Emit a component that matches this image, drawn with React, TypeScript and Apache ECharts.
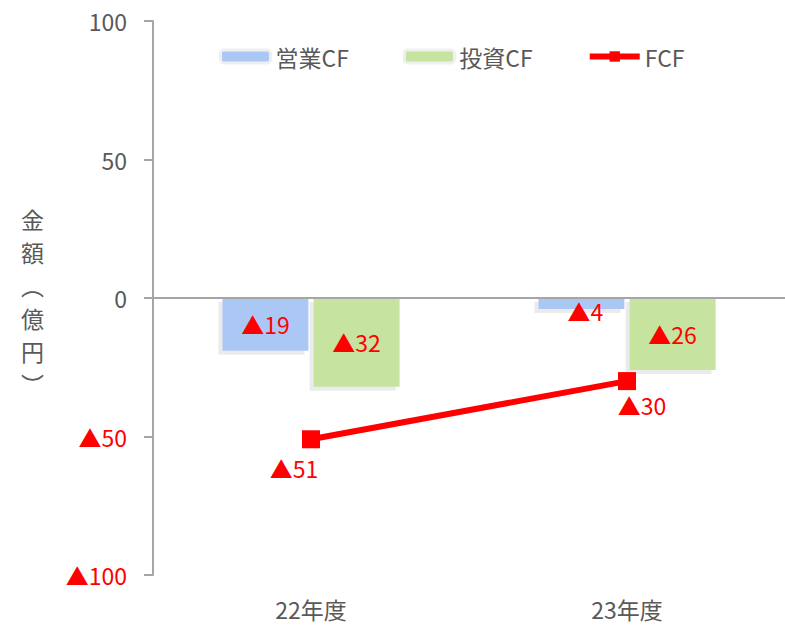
import React, { useEffect, useRef } from "react";
import * as echarts from "echarts";

const categories = ["22年度", "23年度"];
const operatingCF = [-19, -4];
const investingCF = [-32, -26];
const freeCF = [-51, -30];
const yTitle = ["金", "額", "︵", "億", "円", "︶"];

const RED = "#ff0000";
const GRAY = "#595959";
const FONT = "'Noto Sans CJK JP', 'Noto Sans', sans-serif";
const FS = 23;

const fmt = (v: number) => (v < 0 ? "▲" + Math.abs(v) : String(v));

export default function App() {
  const ref = useRef<HTMLDivElement>(null);
  useEffect(() => {
    const chart = echarts.init(ref.current!, null, { renderer: "svg" });
    const barShadow = {
      shadowColor: "#ebebeb",
      shadowBlur: 1,
      shadowOffsetX: -4,
      shadowOffsetY: 4,
    };
    const barLabel = {
      show: true,
      position: "inside",
      color: RED,
      fontSize: FS,
      fontFamily: FONT,
      formatter: (p: any) => fmt(p.value),
    };
    chart.setOption({
      animation: false,
      textStyle: { fontFamily: FONT },
      grid: { left: 153, top: 21, bottom: 51, width: 636 },
      legend: {
        left: 214,
        top: 40,
        itemGap: 54,
        itemWidth: 50,
        itemHeight: 13,
        textStyle: { fontSize: FS, color: GRAY, fontFamily: FONT },
        data: [
          { name: "営業CF", itemStyle: { borderColor: "#efefef", borderWidth: 3 } },
          { name: "投資CF", itemStyle: { borderColor: "#efefef", borderWidth: 3 } },
          { name: "FCF", lineStyle: { width: 6 } },
        ],
      },
      graphic: [
        {
          type: "text",
          left: 21,
          top: 202,
          style: {
            text: yTitle.join("\n"),
            fontSize: FS,
            lineHeight: 33,
            fill: GRAY,
            fontFamily: FONT,
            align: "center",
          },
        },
      ],
      xAxis: {
        type: "category",
        data: categories,
        axisLine: { show: false },
        axisTick: { show: false },
        axisLabel: { fontSize: FS, color: GRAY, margin: 22, fontFamily: FONT },
      },
      yAxis: {
        type: "value",
        min: -100,
        max: 100,
        interval: 50,
        splitLine: { show: false },
        axisLine: { show: true, lineStyle: { color: "#a6a6a6", width: 2 } },
        axisTick: { show: true, length: 9, lineStyle: { color: "#a6a6a6", width: 2 } },
        axisLabel: {
          margin: 26,
          formatter: (v: number) => (v < 0 ? "{r|▲" + Math.abs(v) + "}" : "{g|" + v + "}"),
          rich: {
            r: { color: RED, fontSize: FS, fontFamily: FONT },
            g: { color: GRAY, fontSize: FS, fontFamily: FONT },
          },
        },
      },
      series: [
        {
          name: "営業CF",
          type: "bar",
          barWidth: 86,
          barGap: "6%",
          itemStyle: { color: "#abc8f5", ...barShadow },
          label: barLabel,
          data: [
            operatingCF[0],
            { value: operatingCF[1], label: { offset: [4, 7] } },
          ],
          markLine: {
            silent: true,
            symbol: "none",
            label: { show: false },
            lineStyle: { color: "#a6a6a6", width: 2, type: "solid" },
            data: [{ yAxis: 0 }],
          },
        },
        {
          name: "投資CF",
          type: "bar",
          barWidth: 86,
          itemStyle: { color: "#c6e3a0", ...barShadow },
          label: barLabel,
          data: investingCF,
        },
        {
          name: "FCF",
          type: "line",
          symbol: "rect",
          symbolSize: 18,
          lineStyle: { color: RED, width: 6 },
          itemStyle: { color: RED },
          label: {
            show: true,
            position: "inside",
            color: RED,
            fontSize: FS,
            fontFamily: FONT,
            formatter: (p: any) => fmt(p.value),
          },
          data: [
            { value: freeCF[0], label: { offset: [-17, 29] } },
            { value: freeCF[1], label: { offset: [15, 24] } },
          ],
          z: 5,
        },
      ],
    });
    return () => chart.dispose();
  }, []);
  return <div ref={ref} style={{ width: 785, height: 626, position: "absolute", left: 0, top: 0 }} />;
}
